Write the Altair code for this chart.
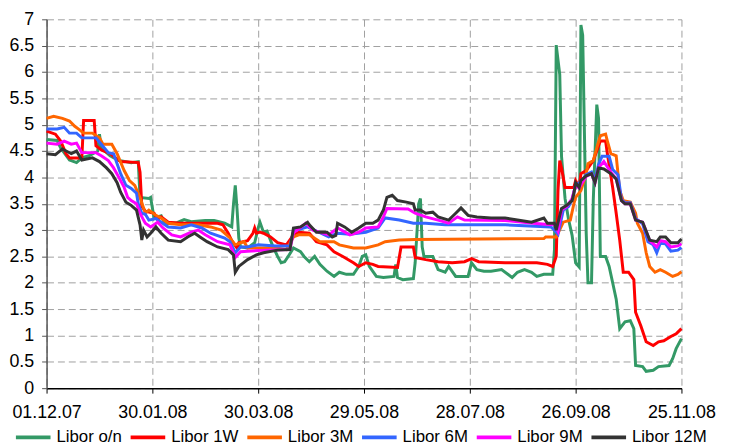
import json
import altair as alt
import pandas as pd

# ---- data (day offset from 01.12.2007, rate in %) ----
TICK_DAYS = [0, 60, 120, 180, 240, 300, 360]
TICK_LABELS = ["01.12.07", "30.01.08", "30.03.08", "29.05.08", "28.07.08", "26.09.08", "25.11.08"]
SERIES = ["Libor o/n", "Libor 1W", "Libor 3M", "Libor 6M", "Libor 9M", "Libor 12M"]
COLORS = ["#339966", "#ff0000", "#ff6600", "#3366ff", "#ff00ff", "#333333"]

on_days = [0, 6, 8, 13, 17, 20, 24, 29, 30, 31, 36, 41, 45, 48, 52, 53, 58, 59, 61, 63, 65, 67, 74, 78, 82,
           90, 95, 101, 105, 106, 107, 108, 109, 110, 114, 118, 120, 121, 123, 125, 128, 131, 133, 135, 137,
           140, 144, 146, 149, 152, 155, 159, 163, 166, 170, 174, 177, 179, 181, 183, 187, 191, 197, 198, 199,
           202, 208, 209, 211, 212, 213, 214, 219, 222, 226, 228, 232, 239, 241, 244, 248, 252, 258, 264, 267,
           271, 275, 278, 282, 287, 288, 289, 291, 292, 294, 296, 298, 300, 302, 303, 304, 306, 307, 309, 310,
           312, 313, 314, 317, 319, 321, 323, 325, 328, 331, 333, 334, 338, 340, 344, 347, 353, 355, 357, 360]
on_vals = [4.72, 4.70, 4.56, 4.33, 4.28, 4.37, 4.41, 4.50, 4.82, 4.56, 4.41, 4.32, 4.30, 4.28, 4.30, 3.62, 3.60,
           3.62, 3.22, 3.25, 3.27, 3.12, 3.14, 3.20, 3.16, 3.18, 3.18, 3.13, 3.06, 3.50, 3.85, 3.40, 2.85, 2.68,
           2.66, 2.76, 3.04, 3.15, 2.96, 2.98, 2.72, 2.50, 2.38, 2.40, 2.50, 2.66, 2.59, 2.50, 2.40, 2.50, 2.35,
           2.22, 2.12, 2.20, 2.16, 2.16, 2.31, 2.50, 2.53, 2.31, 2.12, 2.10, 2.12, 2.35, 2.10, 2.06, 2.08, 2.38,
           3.50, 3.60, 2.68, 2.50, 2.50, 2.25, 2.20, 2.31, 2.12, 2.12, 2.38, 2.25, 2.22, 2.22, 2.25, 2.10, 2.20,
           2.25, 2.20, 2.12, 2.16, 2.16, 2.63, 6.51, 5.95, 4.40, 3.60, 3.20, 2.90, 2.38, 2.30, 6.89, 6.70, 2.94,
           2.00, 2.00, 3.56, 5.38, 5.12, 2.50, 2.50, 2.31, 2.00, 1.69, 1.13, 1.26, 1.28, 1.13, 0.43, 0.41, 0.32,
           0.34, 0.41, 0.43, 0.56, 0.75, 0.94]

w1_days = [0, 5, 8, 11, 13, 20, 21, 27, 28, 31, 36, 38, 42, 52, 53, 54, 56, 61, 63, 65, 69, 76, 97, 100, 103,
           105, 108, 109, 114, 117, 118, 119, 121, 123, 127, 131, 136, 140, 143, 149, 153, 159, 163, 168, 174,
           177, 181, 185, 188, 199, 201, 208, 209, 215, 222, 230, 237, 241, 245, 260, 278, 284, 287, 289, 290,
           291, 292, 294, 299, 300, 302, 303, 306, 310, 314, 317, 318, 321, 323, 325, 327, 330, 333, 334, 337,
           340, 344, 347, 350, 354, 357, 360]
w1_vals = [4.88, 4.82, 4.69, 4.45, 4.37, 4.37, 5.08, 5.08, 4.60, 4.52, 4.45, 4.40, 4.30, 4.28, 4.10, 3.45, 3.36,
           3.32, 3.20, 3.25, 3.15, 3.13, 3.13, 3.10, 2.94, 2.80, 2.66, 2.76, 2.80, 2.94, 3.04, 2.94, 2.96, 2.94,
           2.87, 2.76, 2.72, 2.91, 2.96, 2.94, 2.78, 2.72, 2.59, 2.50, 2.38, 2.31, 2.38, 2.35, 2.31, 2.29, 2.68,
           2.68, 2.48, 2.44, 2.40, 2.38, 2.40, 2.46, 2.40, 2.38, 2.38, 2.35, 2.31, 2.50, 3.75, 4.32, 4.18, 3.81,
           3.81, 3.94, 3.81, 4.07, 4.13, 4.32, 4.69, 4.69, 4.45, 3.81, 3.32, 2.81, 2.20, 2.20, 2.06, 1.44, 1.18,
           0.88, 0.81, 0.88, 0.90, 0.98, 1.03, 1.13]

m3_days = [0, 4, 9, 13, 16, 18, 21, 26, 30, 32, 37, 40, 44, 47, 50, 53, 56, 58, 62, 65, 69, 76, 86, 93, 99, 104,
           107, 112, 114, 123, 130, 136, 140, 143, 149, 155, 163, 166, 174, 181, 188, 192, 200, 209, 282, 283,
           289, 290, 293, 297, 299, 300, 303, 306, 307, 310, 312, 314, 317, 318, 320, 323, 325, 327, 331, 334,
           335, 338, 340, 342, 345, 348, 351, 355, 358, 360]
m3_vals = [5.12, 5.16, 5.12, 5.07, 4.97, 4.92, 4.84, 4.84, 4.75, 4.63, 4.63, 4.45, 4.13, 3.94, 3.85, 3.62, 3.32,
           3.38, 3.28, 3.23, 3.13, 3.10, 3.10, 3.06, 3.00, 2.85, 2.72, 2.78, 2.66, 2.66, 2.66, 2.63, 2.87, 2.91,
           2.91, 2.78, 2.78, 2.72, 2.66, 2.66, 2.72, 2.78, 2.81, 2.82, 2.84, 2.87, 2.87, 2.94, 3.15, 3.19, 3.50,
           3.62, 3.75, 4.07, 4.26, 4.32, 4.56, 4.79, 4.82, 4.69, 4.45, 4.41, 3.75, 3.56, 3.53, 3.32, 3.13, 2.94,
           2.57, 2.31, 2.20, 2.25, 2.20, 2.12, 2.16, 2.21]

m6_days = [0, 6, 10, 13, 17, 20, 28, 31, 35, 38, 42, 45, 48, 51, 52, 54, 56, 58, 62, 65, 69, 76, 82, 88, 93, 101,
           104, 107, 110, 114, 120, 130, 138, 140, 148, 155, 160, 165, 172, 181, 188, 192, 200, 208, 215, 226,
           238, 260, 286, 288, 290, 293, 296, 298, 300, 303, 306, 309, 311, 313, 315, 319, 321, 324, 326, 328,
           331, 334, 338, 341, 344, 346, 348, 351, 354, 358, 360]
m6_vals = [4.92, 4.92, 4.95, 4.84, 4.84, 4.75, 4.75, 4.63, 4.47, 4.45, 4.07, 3.85, 3.79, 3.70, 3.50, 3.32, 3.30,
           3.19, 3.22, 3.15, 3.06, 3.04, 3.10, 3.04, 2.94, 2.85, 2.78, 2.57, 2.68, 2.68, 2.72, 2.70, 2.70, 2.98,
           3.06, 2.95, 2.87, 2.94, 2.92, 2.96, 3.04, 3.23, 3.19, 3.13, 3.13, 3.10, 3.10, 3.10, 3.06, 3.00, 2.92,
           3.38, 3.45, 3.58, 3.85, 3.92, 4.05, 4.10, 3.95, 4.25, 4.40, 4.40, 4.15, 4.05, 3.58, 3.52, 3.52, 3.22,
           3.12, 2.78, 2.72, 2.57, 2.75, 2.74, 2.60, 2.62, 2.67]

m9_days = [0, 6, 10, 14, 17, 20, 28, 31, 35, 38, 41, 44, 46, 48, 51, 53, 55, 56, 59, 63, 66, 71, 76, 82, 86, 90,
           97, 104, 107, 110, 114, 125, 138, 140, 147, 151, 160, 165, 172, 177, 181, 188, 191, 193, 205, 209,
           215, 222, 228, 233, 237, 260, 276, 286, 288, 290, 292, 295, 298, 300, 302, 304, 306, 309, 311, 313,
           316, 320, 323, 326, 328, 331, 334, 338, 342, 346, 348, 351, 354, 358, 360]
m9_vals = [4.65, 4.63, 4.69, 4.63, 4.65, 4.47, 4.47, 4.41, 4.32, 4.18, 4.00, 3.81, 3.62, 3.56, 3.50, 3.32, 3.19,
           3.13, 3.06, 3.15, 3.04, 2.91, 2.87, 2.96, 3.00, 2.91, 2.78, 2.72, 2.48, 2.59, 2.60, 2.62, 2.63, 2.95,
           3.13, 3.00, 2.91, 3.04, 2.91, 2.96, 3.04, 3.06, 3.25, 3.41, 3.40, 3.32, 3.25, 3.19, 3.13, 3.25, 3.19,
           3.18, 3.13, 3.10, 3.12, 2.98, 3.38, 3.45, 3.60, 3.85, 3.80, 3.92, 4.02, 4.07, 3.90, 4.18, 4.30, 4.10,
           3.97, 3.56, 3.50, 3.50, 3.19, 3.15, 2.80, 2.68, 2.80, 2.78, 2.68, 2.70, 2.74]

m12_days = [0, 5, 9, 14, 17, 20, 26, 30, 34, 37, 40, 42, 45, 48, 51, 53, 54, 55, 57, 59, 62, 65, 69, 76, 80, 84,
            87, 91, 97, 103, 106, 107, 109, 114, 119, 123, 131, 138, 140, 144, 148, 149, 153, 159, 162, 164, 165,
            169, 173, 177, 181, 185, 188, 191, 193, 196, 199, 204, 208, 209, 212, 215, 219, 222, 228, 232, 235,
            239, 244, 252, 260, 267, 275, 282, 284, 288, 289, 291, 292, 295, 298, 299, 300, 302, 303, 306, 309,
            311, 313, 316, 320, 323, 326, 328, 331, 334, 338, 342, 346, 348, 351, 354, 358, 360]
m12_vals = [4.45, 4.43, 4.54, 4.45, 4.50, 4.33, 4.37, 4.30, 4.18, 4.07, 3.90, 3.72, 3.53, 3.47, 3.38, 3.10, 2.81,
            3.00, 2.87, 2.94, 3.06, 2.94, 2.81, 2.78, 2.87, 2.94, 2.87, 2.78, 2.68, 2.63, 2.53, 2.20, 2.31, 2.44,
            2.53, 2.57, 2.62, 2.63, 3.04, 3.06, 3.15, 3.10, 2.96, 2.96, 2.87, 2.90, 3.13, 3.06, 2.96, 3.04, 3.13,
            3.13, 3.19, 3.38, 3.62, 3.66, 3.56, 3.53, 3.50, 3.38, 3.38, 3.32, 3.34, 3.25, 3.19, 3.32, 3.42, 3.28,
            3.25, 3.23, 3.23, 3.19, 3.15, 3.23, 3.13, 3.13, 3.00, 3.28, 3.41, 3.47, 3.56, 3.69, 3.90, 3.81, 3.94,
            4.03, 4.07, 3.90, 4.18, 4.16, 4.07, 3.97, 3.56, 3.50, 3.50, 3.19, 3.15, 2.81, 2.78, 2.87, 2.87, 2.76,
            2.76, 2.83]

DATA = {
    "Libor o/n": (on_days, on_vals),
    "Libor 1W": (w1_days, w1_vals),
    "Libor 3M": (m3_days, m3_vals),
    "Libor 6M": (m6_days, m6_vals),
    "Libor 9M": (m9_days, m9_vals),
    "Libor 12M": (m12_days, m12_vals),
}

rows = []
for order, name in enumerate(SERIES):
    d, v = DATA[name]
    for day, val in zip(d, v):
        rows.append({"series": name, "day": day, "rate": val, "ord": order})
df = pd.DataFrame(rows)

FONT = "Liberation Sans"
label_expr = json.dumps(TICK_LABELS) + "[round(datum.value / 60)]"

chart = alt.Chart(df).mark_line(strokeWidth=3, strokeJoin="miter").encode(
    x=alt.X("day:Q",
            scale=alt.Scale(domain=[0, 360], nice=False, zero=False),
            axis=alt.Axis(values=TICK_DAYS, labelExpr=label_expr, title=None,
                          grid=True, gridDash=[7, 4], gridColor="#a0a0a0", gridWidth=1,
                          domainColor="#000000", domainWidth=1.5,
                          tickColor="#000000", tickSize=5, tickWidth=1,
                          labelFont=FONT, labelFontSize=18, labelColor="#000000",
                          labelPadding=11, labelFlush=False, labelOverlap=False)),
    y=alt.Y("rate:Q",
            scale=alt.Scale(domain=[0, 7], nice=False),
            axis=alt.Axis(values=[i * 0.5 for i in range(15)], format="~g", title=None,
                          grid=True, gridDash=[7, 4], gridColor="#a0a0a0", gridWidth=1,
                          domainColor="#555555", domainWidth=1.5,
                          tickColor="#555555", tickSize=5, tickWidth=1,
                          labelFont=FONT, labelFontSize=18, labelColor="#000000",
                          labelPadding=8, labelOverlap=False)),
    color=alt.Color("series:N",
                    scale=alt.Scale(domain=SERIES, range=COLORS),
                    sort=SERIES,
                    legend=alt.Legend(title=None, orient="none", direction="horizontal", columns=6,
                                      legendX=-33, legendY=403,
                                      symbolType="stroke", symbolSize=1225, symbolStrokeWidth=4,
                                      labelFont=FONT, labelFontSize=17, labelColor="#000000",
                                      labelOffset=4, columnPadding=0, padding=0, labelLimit=200)),
    order=alt.Order("ord:Q"),
    detail="series:N",
).properties(
    width=642,
    height=373,
    padding={"left": 39, "top": 9, "right": 40, "bottom": 53},
    autosize=alt.AutoSizeParams(type="none"),
).configure_view(stroke=None)

chart.save("out.html", embed_options={"renderer": "svg", "actions": False})
